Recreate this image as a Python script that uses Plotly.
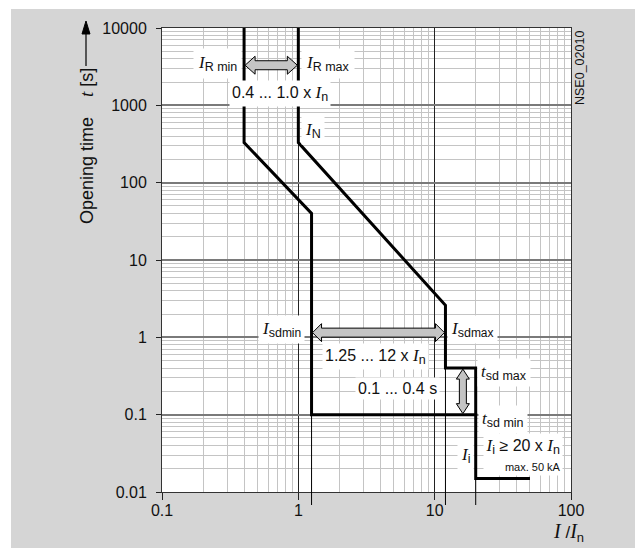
import math
import plotly.graph_objects as go

# ---------------- data ----------------
x_tick_vals = [0.1, 1, 10, 100]
x_tick_text = ["0.1", "1", "10", "100"]
y_tick_vals = [0.01, 0.1, 1, 10, 100, 1000, 10000]
y_tick_text = ["0.01", "0.1", "1", "10", "100", "1000", "10000"]

# lower curve (I_R min setting)
curve_min_I = [0.4, 0.4, 1.25, 1.25, 20, 20, 50]
curve_min_t = [10000, 330, 40, 0.1, 0.1, 0.015, 0.015]
# upper curve (I_R max setting)
curve_max_I = [1.0, 1.0, 12, 12, 20, 20]
curve_max_t = [10000, 330, 2.6, 0.4, 0.4, 0.1]

# thin drop lines to the axis: (I, t where the curve leaves)
drop_I = [1.25, 12, 20]
drop_t = [0.1, 0.4, 0.015]

# setting-range arrows
ir_arrow = (0.4, 1.0, 3300)       # I from, I to, at t
isd_arrow = (1.25, 12, 1.15)      # I from, I to, at t
tsd_arrow = (16.1, 0.4, 0.1)      # at I, t from, t to

# ---------------- geometry helpers (page pixels) ----------------
PAGE_W, PAGE_H = 643, 548
OFF = 8                      # body margin of the html page
W, H = PAGE_W - OFF, PAGE_H - OFF
L, R, T, B = 162, 571, 28, 492
XR = (-1, 2)
YR = (-2, 4)


def px(xp):
    return (xp - L) / (R - L)


def py(yp):
    return (B - yp) / (B - T)


def dx(v):
    return L + (math.log10(v) - XR[0]) / (XR[1] - XR[0]) * (R - L)


def dy(v):
    return B - (math.log10(v) - YR[0]) / (YR[1] - YR[0]) * (B - T)


def path_from_pixels(pts):
    return "M " + " L ".join(f"{px(a):.5f},{py(b):.5f}" for a, b in pts) + " Z"


def h_block_arrow(x0, x1, y, hl, hh, sh):
    pts = [(x0, y), (x0 + hl, y - hh), (x0 + hl, y - sh), (x1 - hl, y - sh),
           (x1 - hl, y - hh), (x1, y), (x1 - hl, y + hh), (x1 - hl, y + sh),
           (x0 + hl, y + sh), (x0 + hl, y + hh)]
    return path_from_pixels(pts)


def v_block_arrow(x, y0, y1, hl, hh, sh):
    pts = [(x, y0), (x + hh, y0 + hl), (x + sh, y0 + hl), (x + sh, y1 - hl),
           (x + hh, y1 - hl), (x, y1), (x - hh, y1 - hl), (x - sh, y1 - hl),
           (x - sh, y0 + hl), (x - hh, y0 + hl)]
    return path_from_pixels(pts)


SANS = "Liberation Sans, Arial, sans-serif"
SERIF = "Liberation Serif, Times New Roman, serif"


def It(sz=17):
    return f"<span style='font-family:{SERIF};font-size:{sz}px'><i>I</i></span>"


def tt(sz=17):
    return f"<span style='font-family:{SERIF};font-size:{sz}px'><i>t</i></span>"


def sub(s, sz=12.5):
    return f"<sub><span style='font-size:{sz}px'>{s}</span></sub>"


fig = go.Figure()

fig.add_trace(go.Scatter(x=curve_min_I, y=curve_min_t, mode="lines",
                         line=dict(color="black", width=3), hoverinfo="skip",
                         showlegend=False))
fig.add_trace(go.Scatter(x=curve_max_I, y=curve_max_t, mode="lines",
                         line=dict(color="black", width=3), hoverinfo="skip",
                         showlegend=False))

shapes = []
# thin white strips top/left (paper is grey)
shapes.append(dict(type="rect", xref="paper", yref="paper", x0=px(0), x1=px(PAGE_W + 5),
                   y0=py(9), y1=py(0), fillcolor="white", line_width=0, layer="below"))
shapes.append(dict(type="rect", xref="paper", yref="paper", x0=px(0), x1=px(11),
                   y0=py(PAGE_H + 5), y1=py(0), fillcolor="white", line_width=0, layer="below"))

# thin drop lines
for I, t in zip(drop_I, drop_t):
    shapes.append(dict(type="line", xref="x", yref="paper", x0=I, x1=I,
                       y0=py(B + 13), y1=py(dy(t)), line=dict(color="black", width=1)))

# arrows
shapes.append(dict(type="path", xref="paper", yref="paper",
                   path=h_block_arrow(dx(ir_arrow[0]) + 1, dx(ir_arrow[1]) - 1, dy(ir_arrow[2]), 10, 9, 4.5),
                   fillcolor="#c4c4c4", line=dict(color="black", width=1)))
shapes.append(dict(type="path", xref="paper", yref="paper",
                   path=h_block_arrow(dx(isd_arrow[0]) + 1, dx(isd_arrow[1]) - 1, dy(isd_arrow[2]), 9, 9, 4.5),
                   fillcolor="#c4c4c4", line=dict(color="black", width=1)))
shapes.append(dict(type="path", xref="paper", yref="paper",
                   path=v_block_arrow(dx(tsd_arrow[0]), dy(tsd_arrow[1]) + 1, dy(tsd_arrow[2]) - 1, 10, 6.5, 3.5),
                   fillcolor="#c4c4c4", line=dict(color="black", width=1)))

# y title arrow
shapes.append(dict(type="line", xref="paper", yref="paper", x0=px(86), x1=px(86),
                   y0=py(66), y1=py(32), line=dict(color="black", width=1.2)))
shapes.append(dict(type="path", xref="paper", yref="paper",
                   path=path_from_pixels([(86, 21), (90, 34), (82, 34)]),
                   fillcolor="black", line=dict(color="black", width=1)))

ann = []


def add(text, xp, yp, xanchor="center", yanchor="middle", size=16, bg="white",
        angle=0, pad=2, align="center"):
    a = dict(text=text, x=px(xp), y=py(yp), xref="paper", yref="paper",
             xanchor=xanchor, yanchor=yanchor, showarrow=False,
             font=dict(family=SANS, size=size, color="#111"),
             borderpad=pad, textangle=angle, align=align)
    if bg:
        a["bgcolor"] = bg
    ann.append(a)


add(It() + sub("R min"), 242, 63, xanchor="right", pad=4)
add(It() + sub("R max"), 301, 63, xanchor="left", pad=4)
add("0.4 ... 1.0 x " + It() + sub("n"), 280, 93, pad=2)
add(It() + sub("N"), 301, 131, xanchor="left", pad=3)
add(It() + sub("sd") + sub("min", 12), 305, 329, xanchor="right", pad=3)
add(It() + sub("sd") + sub("max", 12), 447, 329, xanchor="left", pad=3)
add("1.25 ... 12 x " + It() + sub("n"), 375, 356, pad=2)
add("0.1 ... 0.4 s", 397, 388, pad=2)
add(tt() + sub("sd max"), 477, 372, xanchor="left", pad=3)
add(tt() + sub("sd min"), 478, 419, xanchor="left", pad=3)
add(It() + sub("i"), 465, 455, pad=3)
add(It() + sub("i") + " ≥ 20 x " + It() + sub("n") + "<br><span style='font-size:11px'>max. 50 kA</span>",
    563, 475.5, xanchor="right", yanchor="bottom", pad=1.5, align="right")

# axis titles & id
add("Opening time\u00a0\u00a0\u00a0\u00a0" + tt(19) + " [s]", 86, 146, size=18, bg=None, angle=-90, pad=0)
add(It(20) + " /" + It(20) + sub("n", 13), 552, 532, xanchor="left", size=17, bg=None, pad=0)
add("NSE0_02010", 580, 30, yanchor="top", size=12.5, bg=None, angle=-90, pad=0)

fig.update_layout(
    width=W, height=H,
    margin=dict(l=L - OFF, r=PAGE_W - R, t=T - OFF, b=PAGE_H - B, pad=0),
    paper_bgcolor="#d5d5d5",
    plot_bgcolor="white",
    shapes=shapes,
    annotations=ann,
    showlegend=False,
    font=dict(family=SANS, size=16, color="#111"),
)

fig.update_xaxes(
    type="log", range=list(XR), tickmode="array", tickvals=x_tick_vals, ticktext=x_tick_text,
    showgrid=True, gridcolor="#222222", gridwidth=1,
    minor=dict(dtick="D1", showgrid=True, gridcolor="#c4c4c4", gridwidth=1),
    ticks="outside", ticklen=7, tickcolor="#222", tickwidth=1,
    showline=True, linecolor="#333", linewidth=1, mirror=True,
    tickfont=dict(size=16, family=SANS, color="#111"), zeroline=False,
    ticklabelstandoff=-3,
)
fig.update_yaxes(
    type="log", range=list(YR), tickmode="array", tickvals=y_tick_vals, ticktext=y_tick_text,
    showgrid=True, gridcolor="#7a7a7a", gridwidth=1.5,
    minor=dict(dtick="D1", showgrid=True, gridcolor="#c4c4c4", gridwidth=1),
    ticks="outside", ticklen=5, tickcolor="#222", tickwidth=1,
    showline=True, linecolor="#333", linewidth=1, mirror=True,
    tickfont=dict(size=16, family=SANS, color="#111"), zeroline=False,
    ticklabelstandoff=6,
)

fig.write_html("out.html")
